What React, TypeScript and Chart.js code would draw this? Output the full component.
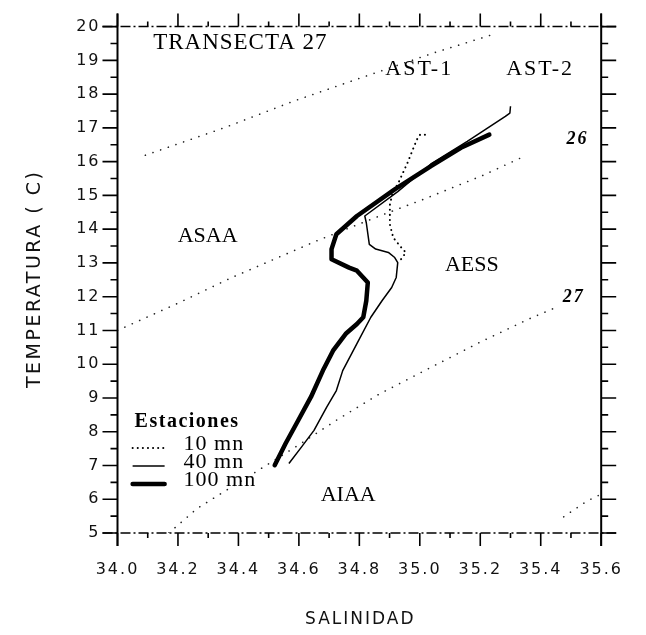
import React, { useEffect, useRef } from 'react';
import { Chart, registerables } from 'chart.js';

Chart.register(...registerables);

// ---- axes ----
const xMin = 34.0;
const xMax = 35.6;
const yMin = 5;
const yMax = 20;
const xTickValues = [34.0, 34.2, 34.4, 34.6, 34.8, 35.0, 35.2, 35.4, 35.6];
const yTickValues = [5, 6, 7, 8, 9, 10, 11, 12, 13, 14, 15, 16, 17, 18, 19, 20];
const xTitle = 'SALINIDAD';
const yTitle = 'TEMPERATURA ( C)';

// ---- stations (salinity / temperature) ----
const sal10 = [34.938, 34.954, 34.943, 34.912, 34.901, 34.901, 34.911, 34.927, 34.959, 34.990, 35.001, 35.021];
const temp10 = [13.11, 13.31, 13.41, 13.75, 14.14, 14.72, 15.13, 15.33, 15.96, 16.65, 16.80, 16.80];

const sal40 = [34.567, 34.609, 34.650, 34.692, 34.724, 34.745, 34.792, 34.838, 34.875, 34.907, 34.922, 34.927, 34.917, 34.896, 34.854, 34.833, 34.823, 34.818, 34.927, 35.037, 35.157, 35.283, 35.298, 35.300];
const temp40 = [7.06, 7.55, 8.04, 8.73, 9.22, 9.81, 10.61, 11.39, 11.88, 12.27, 12.57, 13.01, 13.16, 13.31, 13.41, 13.55, 14.19, 14.39, 15.11, 15.93, 16.60, 17.34, 17.44, 17.64];

const sal100 = [34.520, 34.556, 34.598, 34.640, 34.682, 34.713, 34.755, 34.792, 34.813, 34.823, 34.828, 34.792, 34.766, 34.708, 34.708, 34.724, 34.792, 34.917, 35.037, 35.136, 35.230];
const temp100 = [7.01, 7.65, 8.34, 9.03, 9.86, 10.40, 10.90, 11.19, 11.39, 11.88, 12.42, 12.77, 12.86, 13.11, 13.41, 13.85, 14.39, 15.18, 15.87, 16.41, 16.80];

// ---- isopycnal (sigma-t) lines ----
const salSig25 = [34.092, 34.358, 34.582, 34.801, 35.042, 35.243];
const tempSig25 = [16.19, 17.02, 17.79, 18.47, 19.21, 19.77];
const salSig26 = [34.0, 34.201, 34.379, 34.588, 34.666, 34.875, 35.011, 35.208, 35.334];
const tempSig26 = [11.0, 11.81, 12.57, 13.38, 13.68, 14.42, 14.88, 15.59, 16.11];
const salSig27 = [34.170, 34.264, 34.431, 34.598, 34.724, 34.865, 35.016, 35.199, 35.361, 35.450];
const tempSig27 = [5.0, 5.73, 6.66, 7.60, 8.34, 9.11, 9.81, 10.65, 11.34, 11.68];
const salSig28 = [35.476, 35.554, 35.6];
const tempSig28 = [5.48, 5.95, 6.15];

// ---- text ----
const legendTitle = 'Estaciones';
const legendLabels = ['10 mn', '40 mn', '100 mn'];
const plotTitle = 'TRANSECTA 27';
const astLabels = ['AST-1', 'AST-2'];
const astSal = [34.998, 35.398];
const astTemp = [18.75, 18.75];
const massLabels = ['ASAA', 'AESS', 'AIAA'];
const massSal = [34.298, 35.172, 34.763];
const massTemp = [13.8, 12.93, 6.12];
const sigmaLabels = ['26', '27'];
const sigmaLabelSal = [35.522, 35.509];
const sigmaLabelTemp = [16.65, 11.98];

const pts = (s: number[], t: number[]) => s.map((v, i) => ({ x: v, y: t[i] }));

const SERIF = '"Liberation Serif", "DejaVu Serif", serif';
const SANS = '"DejaVu Sans", sans-serif';

const decor = {
  id: 'decor',
  beforeDraw(chart: any) {
    chart.ctx.letterSpacing = '2px';
  },
  beforeDatasetsDraw(chart: any) {
    chart.ctx.letterSpacing = '0px';
  },
  afterDraw(chart: any) {
    const ctx = chart.ctx;
    const xs = chart.scales.x;
    const ys = chart.scales.y;
    const ca = chart.chartArea;
    ctx.save();
    ctx.letterSpacing = '0px';
    ctx.strokeStyle = '#000';
    ctx.fillStyle = '#000';

    // frame
    ctx.lineWidth = 2;
    ctx.beginPath();
    ctx.moveTo(ca.left, ca.top - 13);
    ctx.lineTo(ca.left, ca.bottom + 13);
    ctx.moveTo(ca.right, ca.top - 13);
    ctx.lineTo(ca.right, ca.bottom + 13);
    ctx.stroke();
    ctx.lineWidth = 1.5;
    ctx.setLineDash([10, 3, 2, 3]);
    ctx.beginPath();
    ctx.moveTo(ca.left - 15, ca.top);
    ctx.lineTo(ca.right + 15, ca.top);
    ctx.moveTo(ca.left - 15, ca.bottom);
    ctx.lineTo(ca.right + 15, ca.bottom);
    ctx.stroke();
    ctx.setLineDash([]);

    // y ticks (both sides, outward)
    ctx.lineWidth = 1.6;
    ctx.beginPath();
    for (let k = 0; k <= (yMax - yMin) * 2; k++) {
      const v = yMin + k * 0.5;
      const p = ys.getPixelForValue(v);
      const len = k % 2 === 0 ? 15 : 7;
      ctx.moveTo(ca.left - len, p);
      ctx.lineTo(ca.left, p);
      ctx.moveTo(ca.right, p);
      ctx.lineTo(ca.right + len, p);
    }
    // x ticks (top up, bottom down)
    for (let k = 0; k <= Math.round((xMax - xMin) * 10); k++) {
      const v = xMin + k * 0.1;
      const p = xs.getPixelForValue(v);
      const len = k % 2 === 0 ? 13 : 5;
      ctx.moveTo(p, ca.top - len);
      ctx.lineTo(p, ca.top);
      ctx.moveTo(p, ca.bottom);
      ctx.lineTo(p, ca.bottom + len);
    }
    ctx.stroke();

    // axis titles
    ctx.fillStyle = '#111';
    ctx.textBaseline = 'middle';
    ctx.textAlign = 'center';
    ctx.font = `17px ${SANS}`;
    ctx.letterSpacing = '2px';
    ctx.fillText(xTitle, (ca.left + ca.right) / 2 + 1, 620);
    ctx.save();
    ctx.translate(35, (ca.top + ca.bottom) / 2);
    ctx.rotate(-Math.PI / 2);
    ctx.font = `19px ${SANS}`;
    ctx.letterSpacing = '2.5px';
    ctx.fillText(yTitle, 1, 0);
    ctx.restore();
    ctx.fillStyle = '#000';

    // titles inside the plot
    ctx.textBaseline = 'middle';
    ctx.textAlign = 'left';
    ctx.font = `23px ${SERIF}`;
    ctx.letterSpacing = '1px';
    ctx.fillText(plotTitle, xs.getPixelForValue(34.118), ys.getPixelForValue(19.53));

    ctx.textAlign = 'center';
    ctx.font = `22px ${SERIF}`;
    ctx.letterSpacing = '2px';
    astLabels.forEach((t, i) => {
      ctx.fillText(t, xs.getPixelForValue(astSal[i]), ys.getPixelForValue(astTemp[i]));
    });
    ctx.letterSpacing = '0px';
    massLabels.forEach((t, i) => {
      ctx.fillText(t, xs.getPixelForValue(massSal[i]), ys.getPixelForValue(massTemp[i]));
    });

    ctx.font = `italic bold 18px ${SERIF}`;
    ctx.letterSpacing = '2px';
    sigmaLabels.forEach((t, i) => {
      ctx.fillText(t, xs.getPixelForValue(sigmaLabelSal[i]), ys.getPixelForValue(sigmaLabelTemp[i]));
    });

    // legend
    const lx = xs.getPixelForValue(34.05);
    const ly = ys.getPixelForValue(8.29);
    ctx.textAlign = 'left';
    ctx.font = `bold 20px ${SERIF}`;
    ctx.letterSpacing = '1.5px';
    ctx.fillText(legendTitle, lx + 2, ly);
    ctx.font = `22px ${SERIF}`;
    ctx.letterSpacing = '1px';
    const dsets = chart.data.datasets;
    legendLabels.forEach((t, i) => {
      const ty = ly + 22 + i * 18;
      ctx.fillText(t, lx + 51, ty);
      const ds = dsets[i];
      ctx.save();
      ctx.letterSpacing = '0px';
      ctx.lineWidth = ds.borderWidth;
      ctx.setLineDash(ds.borderDash || []);
      ctx.lineCap = ds.borderCapStyle || 'butt';
      ctx.beginPath();
      ctx.moveTo(lx, ty + 4);
      ctx.lineTo(lx + 32, ty + 4);
      ctx.stroke();
      ctx.restore();
    });

    ctx.restore();
  },
};

export default function App() {
  const ref = useRef<HTMLCanvasElement | null>(null);

  useEffect(() => {
    if (!ref.current) return;
    const iso = (s: number[], t: number[]) => ({
      data: pts(s, t),
      showLine: true,
      borderColor: '#222',
      borderWidth: 1.6,
      borderDash: [0.1, 8],
      borderCapStyle: 'round',
      pointRadius: 0,
      tension: 0,
    });
    const chart = new Chart(ref.current, {
      type: 'scatter',
      data: {
        datasets: [
          {
            label: legendLabels[0],
            data: pts(sal10, temp10),
            showLine: true,
            borderColor: '#000',
            borderWidth: 2,
            borderDash: [0.1, 5],
            borderCapStyle: 'round',
            pointRadius: 0,
          },
          {
            label: legendLabels[1],
            data: pts(sal40, temp40),
            showLine: true,
            borderColor: '#000',
            borderWidth: 1.5,
            borderJoinStyle: 'round',
            pointRadius: 0,
          },
          {
            label: legendLabels[2],
            data: pts(sal100, temp100),
            showLine: true,
            borderColor: '#000',
            borderWidth: 4.5,
            borderJoinStyle: 'round',
            borderCapStyle: 'round',
            pointRadius: 0,
          },
          iso(salSig25, tempSig25),
          iso(salSig26, tempSig26),
          iso(salSig27, tempSig27),
          iso(salSig28, tempSig28),
        ] as any,
      },
      options: {
        animation: false,
        responsive: true,
        maintainAspectRatio: false,
        devicePixelRatio: 1,
        layout: { padding: { top: 25, right: 18, bottom: 0, left: 0 } },
        plugins: { legend: { display: false }, tooltip: { enabled: false } },
        scales: {
          x: {
            type: 'linear',
            min: xMin,
            max: xMax,
            afterFit: (s: any) => { s.height = 102; },
            afterBuildTicks: (s: any) => { s.ticks = xTickValues.map((v) => ({ value: v })); },
            grid: { display: false, drawTicks: false },
            border: { display: false },
            ticks: {
              padding: 27,
              color: '#111',
              font: { family: SANS, size: 16 },
              callback: (v: any) => Number(v).toFixed(1),
              autoSkip: false,
              maxRotation: 0,
            },
            title: { display: false, text: xTitle },
          },
          y: {
            type: 'linear',
            min: yMin,
            max: yMax,
            afterFit: (s: any) => { s.width = 117.5; },
            afterBuildTicks: (s: any) => { s.ticks = yTickValues.map((v) => ({ value: v })); },
            grid: { display: false, drawTicks: false },
            border: { display: false },
            ticks: {
              padding: 17,
              color: '#111',
              font: { family: SANS, size: 16 },
              callback: (v: any) => String(v),
              autoSkip: false,
            },
            title: { display: false, text: yTitle },
          },
        },
      } as any,
      plugins: [decor as any],
    });
    return () => chart.destroy();
  }, []);

  return (
    <div style={{ position: 'fixed', left: 0, top: 0, width: 646, height: 635, background: '#fff' }}>
      <canvas ref={ref} />
    </div>
  );
}
